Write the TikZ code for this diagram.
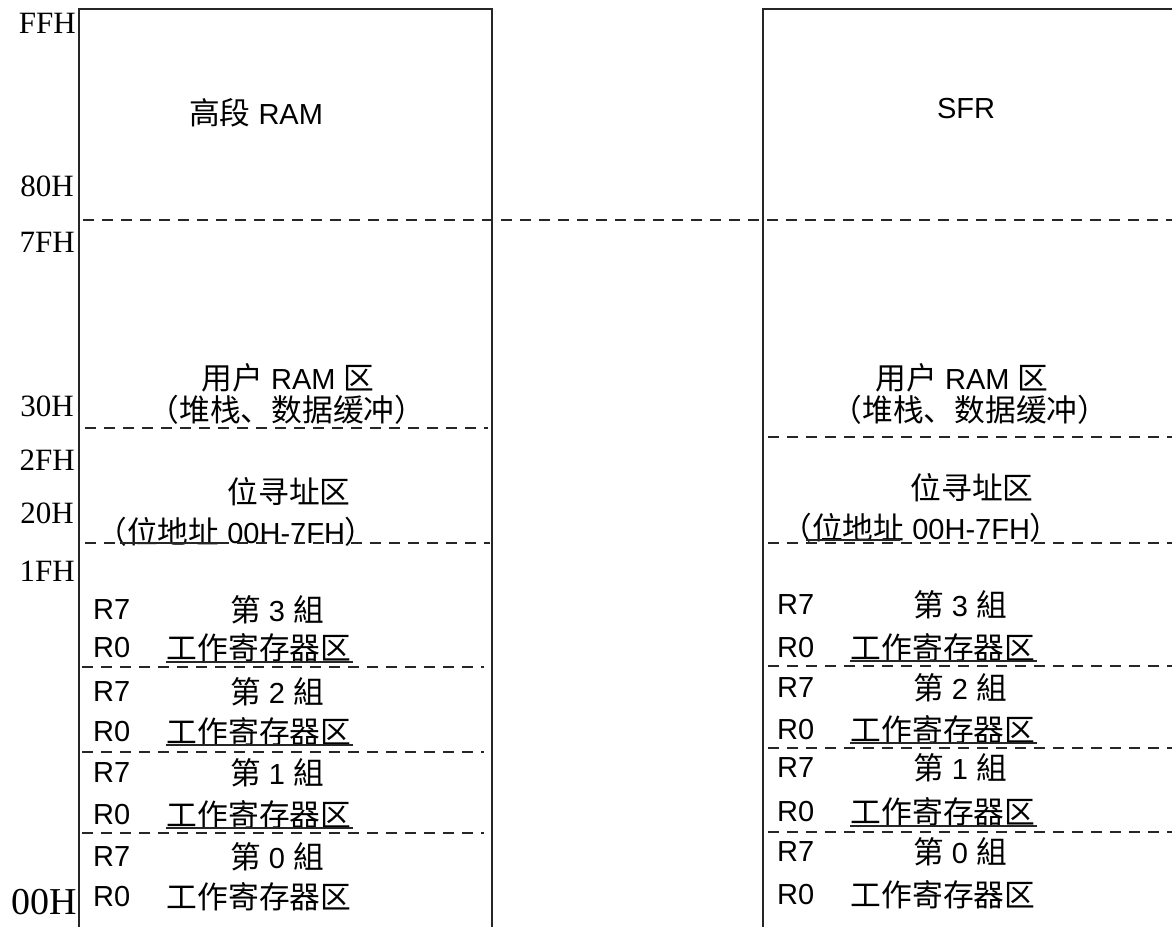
\documentclass[tikz,border=0pt]{standalone}
\usepackage{fontspec}
\setmainfont{Liberation Sans}
\newfontfamily\cjk[Scale=1.06]{Noto Sans CJK SC}
\newfontfamily\addrfont{Liberation Serif}
\begin{document}
\begin{tikzpicture}[x=1pt,y=-1pt,
  txt/.style={inner sep=0pt, font=\fontsize{29}{31}\selectfont},
  addr/.style={inner sep=0pt, anchor=east, font=\addrfont\fontsize{31}{33}\selectfont},
  boxline/.style={line width=2.4pt, black!85},
  dashline/.style={line width=2pt, black!85, dash pattern=on 11pt off 8pt},
  ul/.style={line width=1.8pt, black!85}]
\useasboundingbox (0,0) rectangle (1172,926);
\fill[white] (0,0) rectangle (1172,926);
\clip (0,0) rectangle (1172,926);

% boxes
\draw[boxline] (79,940) -- (79,9) -- (492,9) -- (492,940);
\draw[boxline] (763,940) -- (763,9) -- (1190,9);

% address labels
\node[addr] (aFF) at (76,23) {FFH};
\node[addr] (a80) at (74,186) {80H};
\node[addr] (a7F) at (75,242) {7FH};
\node[addr] (a30) at (74,406) {30H};
\node[addr] (a2F) at (75,460) {2FH};
\node[addr] (a20) at (74,513) {20H};
\node[addr] (a1F) at (75,571) {1FH};
\node[addr, font=\addrfont\fontsize{38}{40}\selectfont] (a00) at (77,902) {00H};

% left box texts
\node[txt] (lhigh) at (256,113) {{\cjk 高段} RAM};
\node[txt] (luser) at (288,378) {{\cjk 用户} RAM {\cjk 区}};
\node[txt] (lstack) at (287,410) {\cjk （堆栈、数据缓冲）};
\node[txt] (lbit) at (289,492) {\cjk 位寻址区};
\node[txt] (lbita) at (236,532) {{\cjk （位地址} 00H-7FH{\cjk ）}};

% right box texts
\node[txt] (rsfr) at (966,109) {SFR};
\node[txt] (ruser) at (962,378) {{\cjk 用户} RAM {\cjk 区}};
\node[txt] (rstack) at (970,410) {\cjk （堆栈、数据缓冲）};
\node[txt] (rbit) at (972,488) {\cjk 位寻址区};
\node[txt] (rbita) at (921,528) {{\cjk （位地址} 00H-7FH{\cjk ）}};

% register groups, left
\foreach \g/\ya/\yb in {3/610/648, 2/692/732, 1/773/815, 0/857/897}{
  \node[txt, anchor=west] (lr7\g) at (93,\ya) {R7};
  \node[txt] (lgrp\g) at (277,\ya) {{\cjk 第} \g\ {\cjk 組}};
  \node[txt, anchor=west] (lr0\g) at (93,\yb) {R0};
  \node[txt] (lwork\g) at (259,\yb) {\cjk 工作寄存器区};
}
% register groups, right
\foreach \g/\ya/\yb in {3/605/648, 2/688/730, 1/768/812, 0/852/895}{
  \node[txt, anchor=west] (rr7\g) at (777,\ya) {R7};
  \node[txt] (rgrp\g) at (960,\ya) {{\cjk 第} \g\ {\cjk 組}};
  \node[txt, anchor=west] (rr0\g) at (777,\yb) {R0};
  \node[txt] (rwork\g) at (943,\yb) {\cjk 工作寄存器区};
}

% underlines
\foreach \g/\y in {3/662, 2/745, 1/828}{
  \draw[ul] (166,\y) -- (353,\y);
}
\foreach \g/\y in {3/661, 2/743, 1/826}{
  \draw[ul] (850,\y) -- (1037,\y);
}
\draw[ul] (120,543) -- (223,543);
\draw[ul] (806,540) -- (900,540);

% dashed separators
\draw[dashline] (83,220) -- (1172,220);
\draw[dashline] (85,428) -- (488,428);
\draw[dashline] (85,543) -- (490,543);
\draw[dashline] (82,667) -- (484,667);
\draw[dashline] (82,752) -- (484,752);
\draw[dashline] (82,833) -- (484,833);
\draw[dashline] (768,437) -- (1172,437);
\draw[dashline] (768,543) -- (1172,543);
\draw[dashline] (768,666) -- (1172,666);
\draw[dashline] (768,748) -- (1172,748);
\draw[dashline] (768,832) -- (1172,832);
\end{tikzpicture}
\end{document}
